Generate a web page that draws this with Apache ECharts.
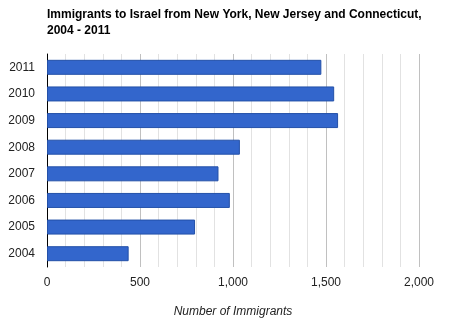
<!DOCTYPE html>
<html>
<head>
<meta charset="utf-8">
<script src="https://cdn.jsdelivr.net/npm/echarts@6/dist/echarts.min.js"></script>
<style>html,body{margin:0;padding:0;background:#fff;}#c{width:466px;height:324px;}</style>
</head>
<body>
<div id="c"></div>
<script>
const years = ['2004','2005','2006','2007','2008','2009','2010','2011'];
const immigrants = [439, 796, 983, 922, 1037, 1565, 1544, 1475];
const xTicks = [0, 500, 1000, 1500, 2000];
const titleText = 'Immigrants to Israel from New York, New Jersey and Connecticut,\n2004 - 2011';
const axisTitle = 'Number of Immigrants';

const chart = echarts.init(document.getElementById('c'), null, {renderer: 'canvas'});
chart.setOption({
  animation: false,
  backgroundColor: '#fff',
  textStyle: {fontFamily: 'Liberation Sans, Arial, sans-serif'},
  title: {
    text: titleText,
    left: 42, top: 2,
    textStyle: {fontSize: 12, fontWeight: 'bold', color: '#000', lineHeight: 16, fontFamily: 'Liberation Sans, Arial, sans-serif'}
  },
  grid: {left: 47, right: 47, top: 54, bottom: 57, containLabel: false},
  xAxis: {
    type: 'value', min: xTicks[0], max: xTicks[xTicks.length-1], interval: 500,
    name: axisTitle, nameLocation: 'middle', nameGap: 39,
    nameTextStyle: {fontStyle: 'italic', fontSize: 12, color: '#222'},
    axisLine: {show: false}, axisTick: {show: false},
    axisLabel: {margin: 10, fontSize: 12, color: '#222',
      formatter: v => v.toLocaleString('en-US')},
    splitLine: {show: true, lineStyle: {color: '#c0c0c0', width: 1}},
    minorTick: {show: false, splitNumber: 5},
    minorSplitLine: {show: true, lineStyle: {color: '#e2e2e2', width: 1}}
  },
  yAxis: {
    type: 'category', data: years,
    axisLine: {show: true, lineStyle: {color: '#000', width: 1}},
    axisTick: {show: false},
    axisLabel: {margin: 12, fontSize: 12, color: '#222'},
    splitLine: {show: false}
  },
  series: [{
    type: 'bar', data: immigrants, barWidth: 15,
    itemStyle: {color: '#3366cc', borderColor: '#2350a8', borderWidth: 1}
  }]
});
</script>
</body>
</html>
